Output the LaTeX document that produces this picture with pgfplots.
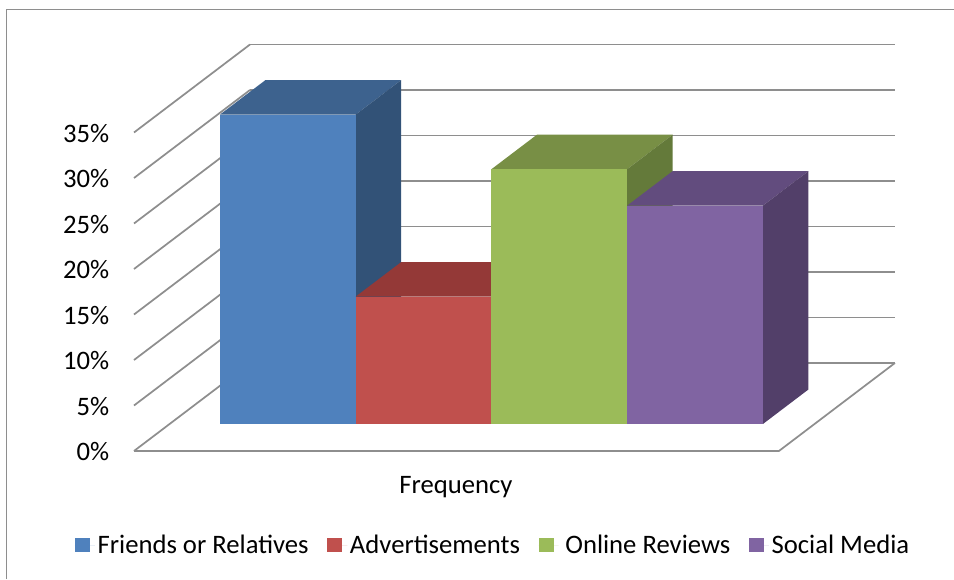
\documentclass[border=0pt]{standalone}
\usepackage{pgfplots}
\pgfplotsset{compat=1.18}
\usepackage{fontspec}
\setmainfont{Carlito}
\definecolor{gridgray}{HTML}{8E8E8E}
\definecolor{blueF}{HTML}{4F81BD}\definecolor{blueT}{HTML}{3D628E}\definecolor{blueS}{HTML}{325277}
\definecolor{redF}{HTML}{C0504D}\definecolor{redT}{HTML}{943937}\definecolor{redS}{HTML}{7A2F2D}
\definecolor{greenF}{HTML}{9BBB59}\definecolor{greenT}{HTML}{788F45}\definecolor{greenS}{HTML}{647A3A}
\definecolor{purpleF}{HTML}{8064A2}\definecolor{purpleT}{HTML}{624C7E}\definecolor{purpleS}{HTML}{523F69}
\begin{document}
\begin{tikzpicture}[x=0.75pt,y=0.75pt]
\path[use as bounding box] (0,0) rectangle (954,579);
\draw[gridgray,line width=1.3pt] (6.5,0) -- (6.5,569.5) -- (954,569.5);
\begin{axis}[
  at={(100.5pt,96pt)}, anchor=origin,
  x={(101.81pt,0pt)}, y={(87pt,66pt)}, z={(0pt,6.825pt)},
  xmin=0, xmax=4.751, ymin=0, ymax=1, zmin=0, zmax=35,
  clip=false,
  axis line style={draw=none},
  major tick length=0pt,
  ytick=\empty,
  xtick={2.371}, xticklabels={Frequency},
  ztick={0,5,...,35},
  zticklabels={0\%,5\%,10\%,15\%,20\%,25\%,30\%,35\%},
  zmajorgrids=true,
  grid style={gridgray,line width=1.3pt},
  tick label style={font=\fontsize{20}{22}\selectfont,black},
  zticklabel style={anchor=east,xshift=-15pt,yshift=-0.5pt},
  xticklabel style={anchor=center,yshift=-27pt},
  legend columns=4,
  legend style={draw=none,fill=none,font=\fontsize{20}{22}\selectfont,
    at={(0,0)},anchor=west,xshift=-47.5pt,yshift=-70.5pt,
    /tikz/every even column/.append style={column sep=12pt}},
  legend image code/.code={\fill[#1] (0pt,-5.6pt) rectangle (11.25pt,5.6pt);\path (0pt,0pt) -- (15pt,0pt);},
]
% floor edges
\addplot3[gridgray,line width=1.3pt,forget plot] coordinates {(0,0,0) (4.751,0,0) (4.751,1,0)};
% Friends or Relatives
\addplot3[fill=blueT,draw=none,forget plot] coordinates {(0.371,0.307,34) (1.371,0.307,34) (1.371,0.699,34) (0.371,0.699,34)};
\addplot3[fill=blueS,draw=none,forget plot] coordinates {(1.371,0.307,0) (1.371,0.699,0) (1.371,0.699,34) (1.371,0.307,34)};
\addplot3[fill=blueF,draw=none] coordinates {(0.371,0.307,0) (1.371,0.307,0) (1.371,0.307,34) (0.371,0.307,34)};
\addlegendentry{Friends or Relatives}
% Advertisements
\addplot3[fill=redT,draw=none,forget plot] coordinates {(1.371,0.307,14) (2.371,0.307,14) (2.371,0.699,14) (1.371,0.699,14)};
\addplot3[fill=redS,draw=none,forget plot] coordinates {(2.371,0.307,0) (2.371,0.699,0) (2.371,0.699,14) (2.371,0.307,14)};
\addplot3[fill=redF,draw=none] coordinates {(1.371,0.307,0) (2.371,0.307,0) (2.371,0.307,14) (1.371,0.307,14)};
\addlegendentry{Advertisements}
% Online Reviews
\addplot3[fill=greenT,draw=none,forget plot] coordinates {(2.371,0.307,28) (3.371,0.307,28) (3.371,0.699,28) (2.371,0.699,28)};
\addplot3[fill=greenS,draw=none,forget plot] coordinates {(3.371,0.307,0) (3.371,0.699,0) (3.371,0.699,28) (3.371,0.307,28)};
\addplot3[fill=greenF,draw=none] coordinates {(2.371,0.307,0) (3.371,0.307,0) (3.371,0.307,28) (2.371,0.307,28)};
\addlegendentry{\hspace{3pt}Online Reviews}
% Social Media
\addplot3[fill=purpleT,draw=none,forget plot] coordinates {(3.371,0.307,24) (4.371,0.307,24) (4.371,0.699,24) (3.371,0.699,24)};
\addplot3[fill=purpleS,draw=none,forget plot] coordinates {(4.371,0.307,0) (4.371,0.699,0) (4.371,0.699,24) (4.371,0.307,24)};
\addplot3[fill=purpleF,draw=none] coordinates {(3.371,0.307,0) (4.371,0.307,0) (4.371,0.307,24) (3.371,0.307,24)};
\addlegendentry{Social Media}
\end{axis}
\end{tikzpicture}
\end{document}
